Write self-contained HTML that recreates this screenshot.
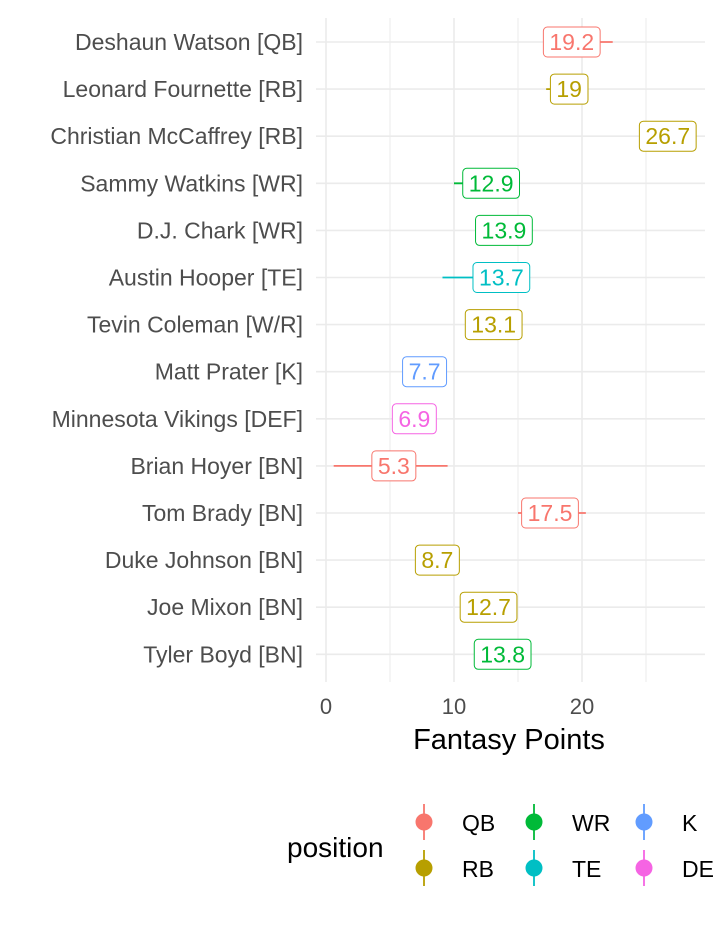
<!DOCTYPE html>
<html><head><meta charset="utf-8"><style>
body{margin:0;background:#fff;}
svg text{font-family:"Liberation Sans",sans-serif;}
</style></head><body>
<svg id="chart" width="720" height="921" xmlns="http://www.w3.org/2000/svg">
<g id="grid"></g>
<g id="ylabels"></g>
<g id="xticks"></g>
<g id="marks"></g>
<text x="509" y="749" font-size="29" text-anchor="middle" fill="#000">Fantasy Points</text>
<g id="legend"></g>
</svg>
<script>
const players = ["Deshaun Watson [QB]","Leonard Fournette [RB]","Christian McCaffrey [RB]","Sammy Watkins [WR]","D.J. Chark [WR]","Austin Hooper [TE]","Tevin Coleman [W/R]","Matt Prater [K]","Minnesota Vikings [DEF]","Brian Hoyer [BN]","Tom Brady [BN]","Duke Johnson [BN]","Joe Mixon [BN]","Tyler Boyd [BN]"];
const positions = ["QB","RB","RB","WR","WR","TE","RB","K","DEF","QB","QB","RB","RB","WR"];
const points = [19.2,19,26.7,12.9,13.9,13.7,13.1,7.7,6.9,5.3,17.5,8.7,12.7,13.8];
const lows = [17.5,17.2,25.5,10.0,12.5,9.1,12.0,7.0,6.0,0.6,15.0,8.0,12.0,13.0];
const highs = [22.4,20.0,28.0,14.0,15.0,15.0,14.0,8.5,7.8,9.5,20.3,9.5,13.5,14.5];
const xTicks = [0,10,20];
const xMinor = [5,15,25];
const legendKeys = ["QB","RB","WR","TE","K","DEF"];
const legendText = ["QB","RB","WR","TE","K","DE"];
const colors = {QB:"#F8766D",RB:"#B79F00",WR:"#00BA38",TE:"#00BFC4",K:"#619CFF",DEF:"#F564E3"};
const NS="http://www.w3.org/2000/svg";
const x = v => 326 + v*12.8;
const y = i => 42 + i*47.1;
function mk(tag, attrs, parent){const e=document.createElementNS(NS,tag);for(const k in attrs)e.setAttribute(k,attrs[k]);parent.appendChild(e);return e;}
const grid=document.getElementById('grid');
xMinor.forEach(v=>{const l=mk('line',{x1:x(v),x2:x(v),y1:18,y2:682,stroke:'#ebebeb','stroke-width':1},grid);

});
xTicks.forEach(v=>{const l=mk('line',{x1:x(v),x2:x(v),y1:18,y2:682,stroke:'#ebebeb','stroke-width':1.6},grid);

});
players.forEach((p,i)=>{const l=mk('line',{x1:316,x2:705,y1:y(i),y2:y(i),stroke:'#ebebeb','stroke-width':1.6},grid);

});
const yl=document.getElementById('ylabels');
players.forEach((p,i)=>{const t=mk('text',{x:303,y:y(i)+8,'font-size':23,'text-anchor':'end',fill:'#4d4d4d'},yl);t.textContent=p;

});
const xt=document.getElementById('xticks');
xTicks.forEach(v=>{const t=mk('text',{x:x(v),y:714,'font-size':22,'text-anchor':'middle',fill:'#4d4d4d'},xt);t.textContent=v;

});
const marks=document.getElementById('marks');
players.forEach((p,i)=>{const c=colors[positions[i]];
const e=mk('line',{x1:x(lows[i]),x2:x(highs[i]),y1:y(i),y2:y(i),stroke:c,'stroke-width':1.8},marks);


const s=String(points[i]);
const r=mk('rect',{y:y(i)-15,height:30,rx:4,fill:'#fff',stroke:c,'stroke-width':1},marks);


const t=mk('text',{x:x(points[i]),y:y(i)+8,'font-size':23,'text-anchor':'middle',fill:c},marks);t.textContent=s;


const w=t.getComputedTextLength()+12;
r.setAttribute('x',x(points[i])-w/2);r.setAttribute('width',w);});
const lg=document.getElementById('legend');
const lt=mk('text',{x:287,y:857,'font-size':28,fill:'#000'},lg);lt.textContent='position';


legendKeys.forEach((k,j)=>{const col=Math.floor(j/2),row=j%2;const cx=424+col*110,cy=822+row*46;const c=colors[k];
const g=mk('g',{},lg);


mk('line',{x1:cx,x2:cx,y1:cy-18,y2:cy+18,stroke:c,'stroke-width':1.8},g);
mk('circle',{cx:cx,cy:cy,r:8.5,fill:c},g);
const t=mk('text',{x:cx+38,y:cy+9,'font-size':23,fill:'#000'},g);t.textContent=legendText[j];});
</script>
</body></html>
